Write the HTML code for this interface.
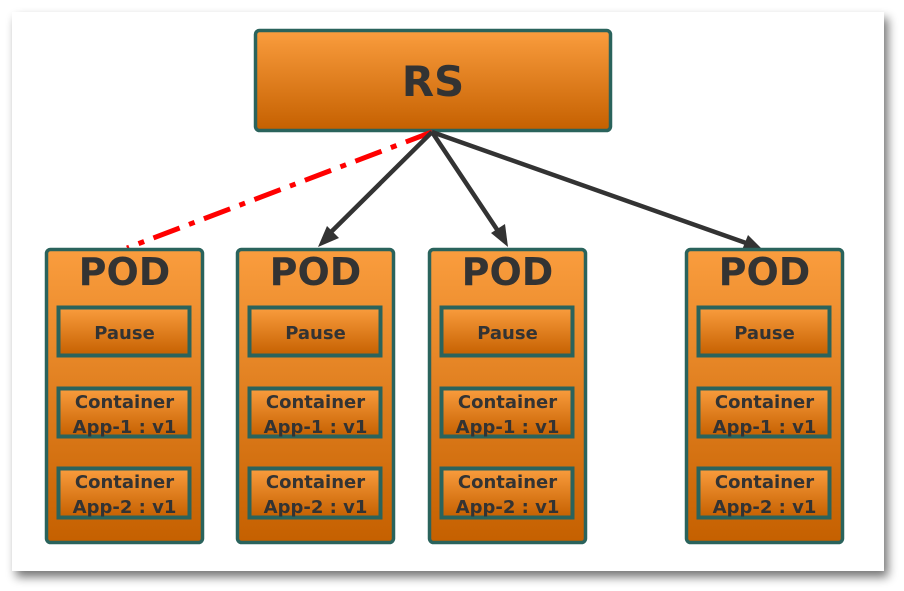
<!DOCTYPE html>
<html><head><meta charset="utf-8"><style>
html,body{margin:0;padding:0;background:#fff;width:904px;height:591px;overflow:hidden}
svg{display:block}
text{font-family:"DejaVu Sans","Liberation Sans",sans-serif;font-weight:bold;fill:#333}
</style></head><body>
<svg width="904" height="591" viewBox="0 0 904 591" xmlns="http://www.w3.org/2000/svg">
<defs>
<linearGradient id="g" x1="0" y1="0" x2="0" y2="1">
<stop offset="0" stop-color="#fa9d3e"/><stop offset="1" stop-color="#c56000"/></linearGradient>
<filter id="sh" x="-5%" y="-5%" width="115%" height="115%">
<feGaussianBlur in="SourceAlpha" stdDeviation="5"/><feOffset dx="4" dy="6"/>
<feComponentTransfer><feFuncA type="linear" slope="0.55"/></feComponentTransfer>
<feMerge><feMergeNode/><feMergeNode in="SourceGraphic"/></feMerge></filter>
<g id="pod">
<rect x="1.5" y="1.5" width="156" height="293" rx="4" fill="url(#g)" stroke="#2a635c" stroke-width="3.5"/>
<text x="79.5" y="37" font-size="38" text-anchor="middle">POD</text>
<rect x="13.5" y="59.5" width="131" height="48" fill="url(#g)" stroke="#2a635c" stroke-width="4"/>
<text x="79.5" y="91" font-size="18" text-anchor="middle">Pause</text>
<rect x="13.5" y="140.5" width="131" height="48" fill="url(#g)" stroke="#2a635c" stroke-width="4"/>
<text x="79.5" y="160" font-size="18" text-anchor="middle">Container</text>
<text x="79.5" y="185" font-size="18" text-anchor="middle">App-1 : v1</text>
<rect x="13.5" y="220.5" width="131" height="49" fill="url(#g)" stroke="#2a635c" stroke-width="4"/>
<text x="79.5" y="240" font-size="18" text-anchor="middle">Container</text>
<text x="79.5" y="265" font-size="18" text-anchor="middle">App-2 : v1</text>
</g>
</defs>
<rect x="12" y="12" width="872" height="559" fill="#fff" filter="url(#sh)"/>
<rect x="255.5" y="30.5" width="355" height="100" rx="4" fill="url(#g)" stroke="#2a635c" stroke-width="3.5"/>
<text x="433" y="96" font-size="42" text-anchor="middle">RS</text>
<line x1="432" y1="132" x2="127" y2="248" stroke="#f00" stroke-width="5" stroke-dasharray="28,10,6,10"/>
<g stroke="#333" stroke-width="4.5">
<line x1="432" y1="132" x2="327" y2="236"/>
<line x1="432" y1="132" x2="500" y2="234"/>
<line x1="432" y1="132" x2="746" y2="243"/>
</g>
<g fill="#333">
<polygon points="318,247 327,226 339,238"/>
<polygon points="508,247 491,233 505,224"/>
<polygon points="762,249 742,250 748,235"/>
</g>
<use href="#pod" x="45" y="248"/>
<use href="#pod" x="236" y="248"/>
<use href="#pod" x="428" y="248"/>
<use href="#pod" x="685" y="248"/>
</svg>
</body></html>
